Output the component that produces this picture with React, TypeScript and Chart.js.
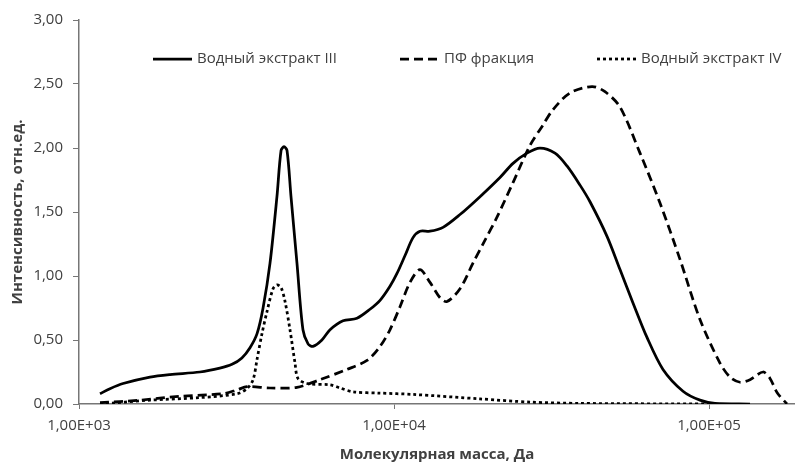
import React, { useEffect, useRef } from "react";
import { Chart, registerables } from "chart.js";

Chart.register(...registerables);

// ---- Data (molecular mass, Da / relative intensity) ----
const massIII = [
  1166, 1254, 1380, 1680, 1945, 2420, 2800, 3060, 3290, 3490, 3675, 3840, 4040, 4250, 4380, 4475, 4575, 4710, 4920,
  5140, 5335, 5530, 5905, 6265, 6890, 7630, 8390, 9030, 9710, 10220, 10840, 11490, 12090, 13010, 14310, 16200,
  18750, 21700, 23870, 26430, 29070, 32440, 35410, 38950, 41900, 47450, 52180, 57370, 63560, 71440, 82700, 93620,
  104470, 134960,
];
const intensityIII = [
  0.08, 0.12, 0.16, 0.21, 0.23, 0.25, 0.28, 0.31, 0.36, 0.44, 0.55, 0.75, 1.1, 1.62, 1.98, 2.01, 1.98, 1.62, 1.1,
  0.58, 0.47, 0.45, 0.5, 0.58, 0.65, 0.67, 0.74, 0.81, 0.92, 1.02, 1.16, 1.3, 1.35, 1.35, 1.38, 1.48,
  1.62, 1.77, 1.88, 1.96, 2.0, 1.96, 1.86, 1.71, 1.58, 1.31, 1.05, 0.79, 0.52, 0.27, 0.1, 0.03,
  0.005, 0.0,
];

const massPF = [
  1166, 1560, 2090, 2865, 3175, 3415, 4040, 4920, 5820, 7090, 8210, 9030, 9710, 10450, 11240, 12090, 13010,
  14000, 14730, 16200, 17810, 19450, 21230, 23870, 27020, 29720, 31970, 36210, 42520, 46750, 52180, 60400,
  69890, 80890, 93620, 108360, 116600, 125430, 134960, 148440, 156200, 164400, 176800,
];
const intensityPF = [
  0.01, 0.03, 0.06, 0.08, 0.11, 0.135, 0.125, 0.13, 0.19, 0.27, 0.34, 0.45, 0.58, 0.76, 0.95, 1.05, 0.95,
  0.83, 0.8, 0.9, 1.1, 1.28, 1.46, 1.73, 2.02, 2.18, 2.3, 2.43, 2.48, 2.44, 2.32, 1.96,
  1.57, 1.13, 0.66, 0.32, 0.21, 0.17, 0.19, 0.25, 0.2, 0.09, 0.0,
];

const massIV = [
  1166, 1680, 2420, 3175, 3415, 3570, 3675, 3810, 3950, 4130, 4250, 4380, 4510, 4675, 4850, 4955, 5295,
  6265, 6740, 7410, 9030, 11490, 18750, 27020, 38950, 100740,
];
const intensityIV = [
  0.0, 0.03, 0.05, 0.08, 0.12, 0.19, 0.35, 0.55, 0.72, 0.9, 0.93, 0.91, 0.8, 0.58, 0.32, 0.2, 0.16,
  0.15, 0.125, 0.095, 0.085, 0.075, 0.04, 0.015, 0.005, 0.0,
];

const seriesLabels = ["Водный экстракт III", "ПФ фракция", "Водный экстракт IV"];
const xTickValues = [1000, 10000, 100000];
const xMin = 1000;
const xMax = 187500;
const yMin = 0;
const yMax = 3;
const yStep = 0.5;
const xTitle = "Молекулярная масса, Да";
const yTitle = "Интенсивность, отн.ед.";

// ---- Styles ----
const FONT = "'Open Sans', 'DejaVu Sans', sans-serif";
const TEXT = "#404040";
const AXIS = "#767676";
const LINE = "#000000";
const LEGEND_OFFSETS = [74, 321, 518];

const toPoints = (xs: number[], ys: number[]) => xs.map((x, i) => ({ x, y: ys[i] }));

const fmtSci = (v: number) => {
  const exp = Math.round(Math.log10(v));
  const mant = v / Math.pow(10, exp);
  return mant.toFixed(2).replace(".", ",") + "E" + (exp >= 0 ? "+" : "-") + String(Math.abs(exp)).padStart(2, "0");
};

const insideLegend = {
  id: "insideLegend",
  afterDatasetsDraw(chart: any) {
    const { ctx, chartArea } = chart;
    const y = chartArea.top + 39;
    ctx.save();
    ctx.font = `15px ${FONT}`;
    ctx.textBaseline = "middle";
    ctx.textAlign = "left";
    chart.data.datasets.forEach((ds: any, i: number) => {
      const x = chartArea.left + LEGEND_OFFSETS[i];
      ctx.beginPath();
      ctx.strokeStyle = ds.borderColor;
      ctx.lineWidth = ds.borderWidth;
      ctx.lineCap = "butt";
      ctx.setLineDash(ds.borderDash || []);
      ctx.moveTo(x, y);
      ctx.lineTo(x + 39, y);
      ctx.stroke();
      ctx.setLineDash([]);
      ctx.fillStyle = TEXT;
      ctx.fillText(ds.label, x + 44, y);
    });
    ctx.restore();
  },
};

export default function App() {
  const canvasRef = useRef<HTMLCanvasElement | null>(null);

  useEffect(() => {
    if (!canvasRef.current) return;
    const common = {
      pointRadius: 0,
      pointHoverRadius: 0,
      fill: false,
      tension: 0.3,
      borderColor: LINE,
      borderWidth: 2.75,
    };
    const chart = new Chart(canvasRef.current, {
      type: "line",
      data: {
        datasets: [
          { ...common, label: seriesLabels[0], data: toPoints(massIII, intensityIII), borderDash: [] },
          { ...common, label: seriesLabels[1], data: toPoints(massPF, intensityPF), borderDash: [9, 5] },
          { ...common, label: seriesLabels[2], data: toPoints(massIV, intensityIV), borderDash: [3, 3] },
        ],
      },
      options: {
        animation: false,
        responsive: false,
        devicePixelRatio: 1,
        events: [],
        layout: { padding: { top: 20, left: 0, right: 0, bottom: 0 } },
        plugins: { legend: { display: false }, tooltip: { enabled: false } },
        scales: {
          x: {
            type: "logarithmic",
            min: xMin,
            max: xMax,
            afterBuildTicks: (s: any) => {
              s.ticks = xTickValues.map((v) => ({ value: v, major: true }));
            },
            afterFit: (s: any) => {
              s.height = 58;
            },
            ticks: {
              autoSkip: false,
              maxRotation: 0,
              padding: 8,
              color: TEXT,
              font: { family: FONT, size: 15 },
              callback: (v: any) => fmtSci(Number(v)),
            },
            grid: { display: true, drawOnChartArea: false, drawTicks: true, tickLength: 5, color: AXIS, lineWidth: 1 },
            border: { display: true, color: AXIS, width: 1.5 },
            title: {
              display: true,
              text: xTitle,
              color: TEXT,
              font: { family: FONT, size: 15, weight: "bold" },
              padding: { top: 0, bottom: -2 },
            },
          },
          y: {
            min: yMin,
            max: yMax,
            afterFit: (s: any) => {
              s.width = 79;
            },
            ticks: {
              stepSize: yStep,
              padding: 10,
              color: TEXT,
              font: { family: FONT, size: 15 },
              callback: (v: any) => Number(v).toFixed(2).replace(".", ","),
            },
            grid: { display: true, drawOnChartArea: false, drawTicks: true, tickLength: 6, color: AXIS, lineWidth: 1 },
            border: { display: true, color: AXIS, width: 1.5 },
            title: {
              display: true,
              text: yTitle,
              color: TEXT,
              font: { family: FONT, size: 15, weight: "bold" },
              padding: { top: 9, bottom: 0 },
            },
          },
        },
      },
      plugins: [insideLegend],
    } as any);
    return () => chart.destroy();
  }, []);

  return (
    <div style={{ position: "absolute", left: 0, top: 0, width: 795, height: 462, background: "#fff" }}>
      <canvas ref={canvasRef} width={795} height={462} style={{ width: 795, height: 462, display: "block" }} />
    </div>
  );
}
